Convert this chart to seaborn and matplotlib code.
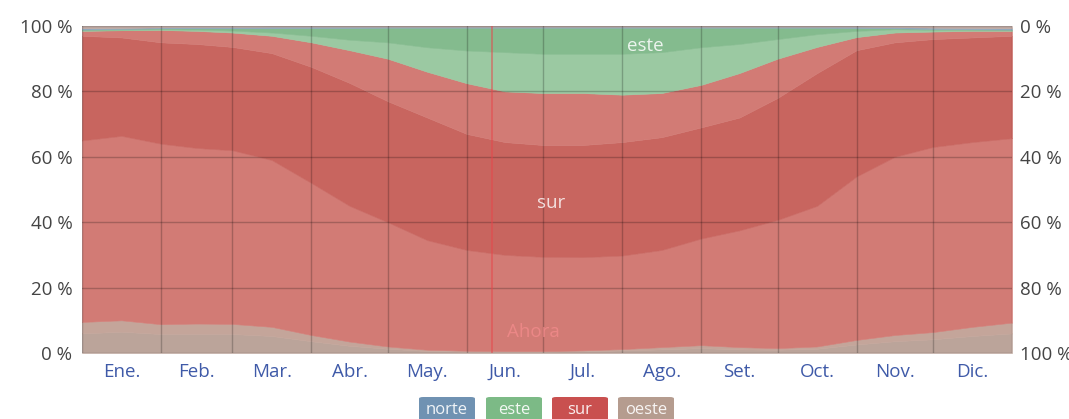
import numpy as np
import pandas as pd
import seaborn as sns
import matplotlib
matplotlib.use("Agg")
import matplotlib.pyplot as plt
from matplotlib.patches import FancyBboxPatch

# ---------------- data ----------------
months = ["Ene.", "Feb.", "Mar.", "Abr.", "May.", "Jun.", "Jul.", "Ago.", "Set.", "Oct.", "Nov.", "Dic."]
month_days = [31, 28, 31, 30, 31, 30, 31, 31, 30, 31, 30, 31]

# cumulative boundaries (%) read at each month start and mid-month, plus year end (25 samples)
b_oeste_dark = [6.0, 6.5, 5.8, 5.8, 5.8, 5.2, 3.6, 2.2, 1.3, 0.6, 0.4, 0.4, 0.4,
                0.5, 0.8, 1.1, 1.5, 1.1, 1.0, 1.3, 2.6, 3.6, 4.2, 5.2, 6.0]
b_oeste = [9.5, 10.0, 8.8, 9.0, 8.9, 8.0, 5.5, 3.5, 2.0, 1.0, 0.7, 0.6, 0.6,
           0.8, 1.2, 1.8, 2.4, 1.8, 1.5, 2.0, 4.0, 5.5, 6.4, 8.0, 9.3]
b_sur_light = [65.0, 66.4, 64.0, 62.7, 62.0, 59.0, 52.0, 45.0, 40.0, 34.5, 31.5, 30.0, 29.4,
               29.3, 29.8, 31.5, 35.0, 37.5, 40.7, 45.0, 54.0, 60.0, 63.0, 64.5, 65.7]
b_sur = [97.0, 96.5, 95.0, 94.5, 93.6, 91.7, 87.5, 82.6, 77.0, 72.0, 67.0, 64.5, 63.6,
         63.6, 64.5, 66.0, 69.0, 72.0, 78.0, 85.6, 92.6, 95.0, 96.0, 96.5, 97.0]
b_sur_upper = [98.5, 98.7, 98.8, 98.5, 98.0, 97.0, 95.0, 92.6, 90.0, 86.0, 82.5, 80.0, 79.5,
               79.5, 79.0, 79.5, 82.0, 85.6, 90.0, 93.6, 96.6, 98.0, 98.3, 98.5, 98.5]
b_este_light = [98.8, 98.9, 99.0, 98.9, 98.6, 98.0, 97.0, 95.8, 95.0, 93.5, 92.5, 92.0, 91.5,
                91.5, 91.5, 92.0, 93.5, 94.5, 96.0, 97.5, 98.5, 99.0, 98.8, 98.8, 98.8]
b_este = [98.9, 99.1, 99.3, 99.3, 99.3, 99.3, 99.4, 99.4, 99.5, 99.5, 99.5, 99.5, 99.5,
          99.5, 99.5, 99.5, 99.5, 99.5, 99.5, 99.5, 99.4, 99.3, 99.1, 99.0, 98.9]
b_norte = [99.3, 99.4, 99.6, 99.7, 99.7, 99.8, 99.8, 99.8, 99.8, 99.8, 99.8, 99.8, 99.8,
           99.8, 99.8, 99.8, 99.8, 99.8, 99.8, 99.8, 99.8, 99.7, 99.5, 99.4, 99.3]
b_top = [100.0] * 25

now_day = 161
legend_names = ["norte", "este", "sur", "oeste"]

# ---------------- positions ----------------
starts = np.concatenate([[0], np.cumsum(month_days)])
xs = []
for i in range(12):
    xs += [starts[i], starts[i] + month_days[i] / 2]
xs.append(365)
xs = np.array(xs, dtype=float)
mids = starts[:-1] + np.array(month_days) / 2

bounds = [np.zeros(25), b_oeste_dark, b_oeste, b_sur_light, b_sur, b_sur_upper,
          b_este_light, b_este, b_norte, b_top]
bounds = [np.asarray(b, dtype=float) for b in bounds]
layer_colors = ["#bba49a", "#c4a59a", "#d27b75", "#c8655f", "#d27b75",
                "#9bc9a2", "#84bb8e", "#8fa7bd", "#c2aaa2"]

# ---------------- drawing ----------------
sns.set_theme(style="white")
plt.rcParams["font.family"] = ["Open Sans", "DejaVu Sans"]

fig = plt.figure(figsize=(10.69, 4.19), dpi=100)
ax = fig.add_axes([82 / 1069, 66 / 419, 930 / 1069, 327 / 419])

for lo, hi, c in zip(bounds[:-1], bounds[1:], layer_colors):
    ax.fill_between(xs, lo, hi, facecolor=c, edgecolor=c, linewidth=0.4, zorder=1)

ax.set_xlim(0, 365)
ax.set_ylim(0, 100)
ax.set_yticks(np.arange(0, 101, 20))
ax.set_yticklabels([f"{v} %" for v in range(0, 101, 20)], color="#444444", fontsize=13.5)
ax.set_xticks(mids)
ax.set_xticklabels(months, color="#3f5aa8", fontsize=13.5)
ax.set_xticks(starts, minor=True)
ax.tick_params(axis="both", which="both", length=0)
ax.tick_params(axis="y", pad=7)
ax.tick_params(axis="x", pad=7)
ax.set_axisbelow(False)
ax.grid(False)
ax.grid(True, which="minor", axis="x", color="black", alpha=0.22, linewidth=1)
ax.grid(True, which="major", axis="y", color="black", alpha=0.22, linewidth=1)
for s in ax.spines.values():
    s.set_visible(False)

ax.axvline(now_day, color="#e8454a", alpha=0.55, linewidth=1.3, zorder=3)
ax.text(now_day + 16, 6.3, "Ahora", ha="center", va="center", fontsize=13.5,
        color="#f08a8a", alpha=0.85, zorder=4)
ax.text(184, 46, "sur", ha="center", va="center", fontsize=13.5, color="white", alpha=0.8, zorder=4)
ax.text(221, 94, "este", ha="center", va="center", fontsize=13.5, color="white", alpha=0.85, zorder=4)

ax2 = ax.twinx()
ax2.set_ylim(100, 0)
ax2.set_yticks(np.arange(0, 101, 20))
ax2.set_yticklabels([f"{v} %" for v in range(0, 101, 20)], color="#444444", fontsize=13.5)
ax2.tick_params(axis="y", length=0, pad=6)
ax2.grid(False)
for s in ax2.spines.values():
    s.set_visible(False)

# legend boxes
leg_colors = ["#7092b2", "#7cba86", "#c9504f", "#b59c8f"]
centers = [447, 514, 580, 646]
for name, c, cx in zip(legend_names, leg_colors, centers):
    w, h = 56, 24
    box = FancyBboxPatch(((cx - w / 2) / 1069, (419 - 397 - h) / 419), w / 1069, h / 419,
                         boxstyle="round,pad=0,rounding_size=0.004", transform=fig.transFigure,
                         facecolor=c, edgecolor="none")
    fig.patches.append(box)
    fig.text(cx / 1069, (419 - 410) / 419, name, ha="center", va="center",
             fontsize=12, color="white", alpha=0.9)

fig.savefig("out.png", dpi=100)
